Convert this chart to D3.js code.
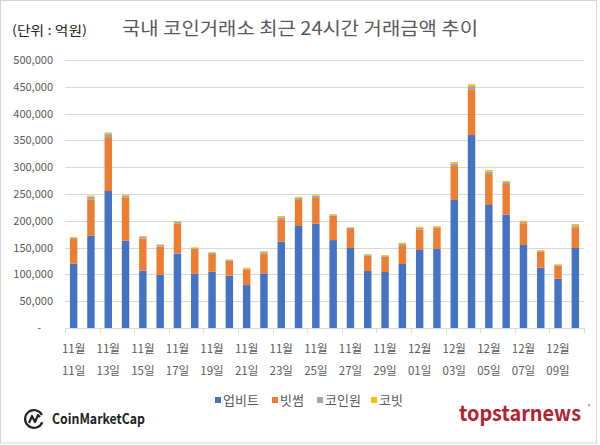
<!DOCTYPE html>
<html>
<head>
<meta charset="utf-8">
<script src="https://cdn.jsdelivr.net/npm/d3@7"></script>
<style>
  html, body { margin: 0; padding: 0; background: #fff; }
  svg { display: block; }
  text { font-family: "Noto Sans CJK KR", "Noto Sans", sans-serif; }
</style>
</head>
<body>
<svg id="chart" width="600" height="445"></svg>
<script>
// ---- data (단위: 억원) ----
const dates = ["11/11","11/12","11/13","11/14","11/15","11/16","11/17","11/18","11/19","11/20",
               "11/21","11/22","11/23","11/24","11/25","11/26","11/27","11/28","11/29","11/30",
               "12/01","12/02","12/03","12/04","12/05","12/06","12/07","12/08","12/09","12/10"];
const upbit   = [120000,172000,255600,163000,107000,99000,139000,101000,105000,97600,
                 80000,102000,161000,190300,194700,164000,149300,106300,104500,119400,
                 145500,147400,238800,360000,229500,211400,154900,112600,92000,149300];
const bithumb = [46000,68000,100400,81000,60000,53000,56000,47000,33000,28000,
                 29500,37000,40500,48500,47800,45600,35400,28700,28500,33600,
                 38500,39800,63400,85300,57800,57300,40400,29800,24300,38500];
const coinone = [2500,5000,7000,3500,3000,3000,3000,1000,3000,1900,
                 1500,3000,5000,4200,4500,1800,2500,1800,2000,3700,
                 3200,1800,5000,6700,5000,3700,2500,1900,1200,3700];
const korbit  = [1500,2000,2000,1500,1600,1000,1000,1500,1000,500,
                 1600,1000,2500,2000,1800,1300,1200,1200,1200,2300,
                 1800,1300,2500,3000,2500,1900,2400,1200,1300,2500];
const seriesNames = ["업비트","빗썸","코인원","코빗"];
const seriesColors = ["#4472C4","#ED7D31","#A5A5A5","#FFC000"];
const yTicks = [0,50000,100000,150000,200000,250000,300000,350000,400000,450000,500000];
const labelDates = ["11/11","11/13","11/15","11/17","11/19","11/21","11/23","11/25","11/27","11/29",
                    "12/01","12/03","12/05","12/07","12/09"];

// ---- build table ----
const keys = ["upbit","bithumb","coinone","korbit"];
const table = dates.map((d,i) => ({date:d, upbit:upbit[i], bithumb:bithumb[i], coinone:coinone[i], korbit:korbit[i]}));
const stacked = d3.stack().keys(keys)(table);

const svg = d3.select("#chart");
const W = 600, H = 445;

// frame
svg.append("rect").attr("x",0.5).attr("y",0.5).attr("width",W-4).attr("height",H-2.5)
   .attr("fill","#fff").attr("stroke","#d4d4d4").attr("stroke-width",1);

const x = d3.scaleBand().domain(dates).range([65,584]).paddingInner(0.57).paddingOuter(0.285);
const y = d3.scaleLinear().domain([0,500000]).range([328,60]);

// gridlines
svg.append("g").selectAll("line").data(yTicks.filter(t=>t>0)).join("line")
  .attr("x1",65).attr("x2",584)
  .attr("y1",d=>Math.round(y(d))+0.5).attr("y2",d=>Math.round(y(d))+0.5)
  .attr("stroke","#d9d9d9").attr("stroke-width",1);

// y labels
const yAxis = d3.axisLeft(y).tickValues(yTicks).tickSize(0).tickPadding(0)
  .tickFormat(d => d === 0 ? "-" : d3.format(",")(d));
const gy = svg.append("g").attr("transform","translate(53,0)").call(yAxis);
gy.select(".domain").remove();
gy.selectAll("text").attr("font-size",11).attr("fill","#595959")
  .attr("font-family","'Noto Sans', 'Noto Sans CJK KR', sans-serif");
gy.selectAll(".tick").filter(d=>d===0).select("text").attr("dx",-12);

// bars
svg.append("g").selectAll("g").data(stacked).join("g")
  .attr("fill",(d,i)=>seriesColors[i])
  .selectAll("rect").data(d=>d).join("rect")
  .attr("x",d=>x(d.data.date))
  .attr("width",x.bandwidth())
  .attr("y",d=>y(d[1]))
  .attr("height",d=>y(d[0])-y(d[1]));

// x axis baseline + ticks at every 2 categories
const step = x.step();
svg.append("line").attr("x1",65).attr("x2",584).attr("y1",328.5).attr("y2",328.5)
  .attr("stroke","#d9d9d9");
const tickXs = d3.range(0, dates.length+1, 2).map(i => 65 + i*step);
svg.append("g").selectAll("line").data(tickXs).join("line")
  .attr("x1",d=>Math.round(d)+0.5).attr("x2",d=>Math.round(d)+0.5)
  .attr("y1",328).attr("y2",333).attr("stroke","#d9d9d9");

// x labels
const gx = svg.append("g");
labelDates.forEach(d => {
  const [m, dd] = d.split("/");
  const cx = x(d) + x.bandwidth()/2;
  gx.append("text").attr("x",cx).attr("y",353).attr("text-anchor","middle")
    .attr("font-size",11.5).attr("fill","#595959").text(m+"월");
  gx.append("text").attr("x",cx).attr("y",375).attr("text-anchor","middle")
    .attr("font-size",11.5).attr("fill","#595959").text(dd+"일");
});

// title
svg.append("text").attr("x",122).attr("y",35).attr("font-size",18).attr("fill","#595959")
  .attr("textLength",356).attr("lengthAdjust","spacingAndGlyphs")
  .text("국내 코인거래소 최근 24시간 거래금액 추이");
svg.append("text").attr("x",12).attr("y",35).attr("font-size",13).attr("fill","#222")
  .attr("textLength",75).attr("lengthAdjust","spacingAndGlyphs")
  .text("(단위 : 억원)");

// legend
const legendX = [215, 272, 317, 371];
const lg = svg.append("g");
seriesNames.forEach((n,i) => {
  lg.append("rect").attr("x",legendX[i]).attr("y",397).attr("width",6).attr("height",6)
    .attr("fill",seriesColors[i]);
  lg.append("text").attr("x",legendX[i]+8).attr("y",405).attr("font-size",13)
    .attr("fill","#595959").text(n);
});

// CoinMarketCap logo
const cmc = svg.append("g").attr("transform","translate(34,419)");
cmc.append("path")
  .attr("d", d3.arc()({innerRadius:7.8, outerRadius:10, startAngle:Math.PI*0.62, endAngle:Math.PI*2.35}))
  .attr("fill","#222");
cmc.append("path").attr("d","M-5,4 L-2,-3 L1,3 L4,-4 L6,-2")
  .attr("fill","none").attr("stroke","#222").attr("stroke-width",2.2).attr("stroke-linejoin","round");
svg.append("text").attr("x",52).attr("y",424).attr("font-size",14).attr("font-weight",700)
  .attr("font-family","Roboto, 'Noto Sans', sans-serif").attr("fill","#222")
  .attr("textLength",93).attr("lengthAdjust","spacingAndGlyphs").text("CoinMarketCap");

// topstarnews logo
svg.append("text").attr("x",459).attr("y",421).attr("font-size",21).attr("font-weight",700)
  .attr("font-family","'Liberation Sans', Arial, sans-serif").attr("fill","#b3232f")
  .attr("textLength",122).attr("lengthAdjust","spacingAndGlyphs").text("topstarnews");
svg.append("text").attr("x",588).attr("y",408).attr("font-size",5).attr("fill","#b3232f").text("®");
</script>
</body>
</html>
